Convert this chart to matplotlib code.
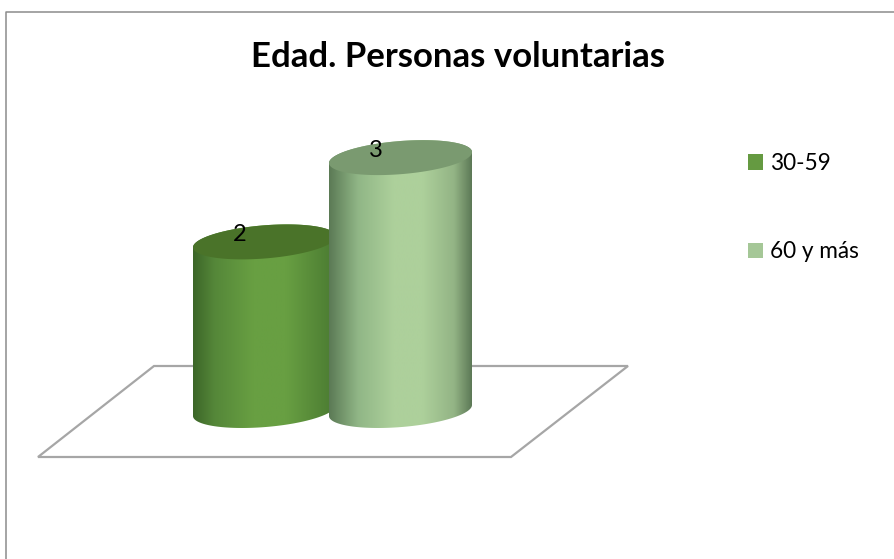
import numpy as np
import matplotlib
matplotlib.use("Agg")
import matplotlib.pyplot as plt
from matplotlib.colors import LinearSegmentedColormap
from matplotlib.lines import Line2D
from matplotlib.patches import Polygon, Patch

title = "Edad. Personas voluntarias"
categories = ["30-59", "60 y más"]
values = [2, 3]
legend_colors = ["#659a41", "#a5c797"]
top_colors = ["#4a7329", "#7a9a70"]
body_stops = [
    [(0, "#3c6628"), (0.15, "#558739"), (0.42, "#689f42"), (0.65, "#689f42"), (1, "#4a7a31")],
    [(0, "#5b7a55"), (0.2, "#90b686"), (0.45, "#add09b"), (0.65, "#add09b"), (0.87, "#93b485"), (1, "#5a7654")],
]
W, H = 895, 559
BASE_PX, UNIT_PX = 410.5, 84.3
C0_PX, STEP_PX = 264.5, 136.0
HALF_W = 71.5 / STEP_PX
RY = 16.6 / UNIT_PX
SHEAR = 5.5 / UNIT_PX


def ypx(p):
    return (BASE_PX - p) / UNIT_PX


def xpx(p):
    return (p - C0_PX) / STEP_PX


plt.rcParams["font.family"] = ["Lato", "DejaVu Sans"]
fig = plt.figure(figsize=(W / 100, H / 100), dpi=100)
ax = fig.add_axes([0, 0, 1, 1])

fig.add_artist(Line2D([6.5 / W, 6.5 / W, 1], [0, 1 - 11.5 / H, 1 - 11.5 / H],
                      transform=fig.transFigure, color="#8c8c8c", lw=1.1))

floor = [(38, 457), (511, 457), (628, 366), (154, 366)]
ax.add_patch(Polygon([(xpx(a), ypx(b)) for a, b in floor], closed=True, fill=False,
                     ec="#a6a6a6", lw=1.6, zorder=1))

t = np.linspace(0, 2 * np.pi, 200)
for i, v in enumerate(values):
    cmap = LinearSegmentedColormap.from_list("b%d" % i, body_stops[i])
    # outline: lower half of the base ellipse plus upper half of the top ellipse
    tb = np.linspace(np.pi, 2 * np.pi, 100)
    bx = i + HALF_W * np.cos(tb)
    by = RY * np.sin(tb) + SHEAR * np.cos(tb)
    tt = np.linspace(0, np.pi, 100)
    tx = i + HALF_W * np.cos(tt)
    ty = v + RY * np.sin(tt) + SHEAR * np.cos(tt)
    body = Polygon(np.c_[np.r_[bx, tx], np.r_[by, ty]], closed=True, fc="none", ec="none",
                   zorder=2 + i)
    ax.add_patch(body)
    im = ax.imshow(np.linspace(0, 1, 256)[None, :], extent=(i - HALF_W, i + HALF_W, -1, v + 1),
                   cmap=cmap, aspect="auto", zorder=2 + i, interpolation="bilinear")
    im.set_clip_path(body)
    ax.fill(i + HALF_W * np.cos(t), v + RY * np.sin(t) + SHEAR * np.cos(t),
            fc=top_colors[i], ec="none", zorder=2.5 + i)
    ax.text(i - 0.18, v + 0.085, str(v), ha="center", va="center", fontsize=17, color="black",
            zorder=6)

ax.set_xlim(xpx(0), xpx(W))
ax.set_ylim(ypx(H), ypx(0))
ax.axis("off")

ax.text(xpx(458), ypx(67), title, ha="center", va="baseline", fontsize=25, fontweight="bold",
        color="black")

handles = [Patch(fc=c, ec="none") for c in legend_colors]
ax.legend(handles, categories, loc="upper left", bbox_to_anchor=(748 / W, 1 - 153 / H),
          bbox_transform=fig.transFigure, frameon=False, fontsize=16.3, handlelength=0.66,
          handleheight=0.66, handletextpad=0.31, labelspacing=2.97, borderpad=0, borderaxespad=0)

fig.savefig("out.png", dpi=100)
